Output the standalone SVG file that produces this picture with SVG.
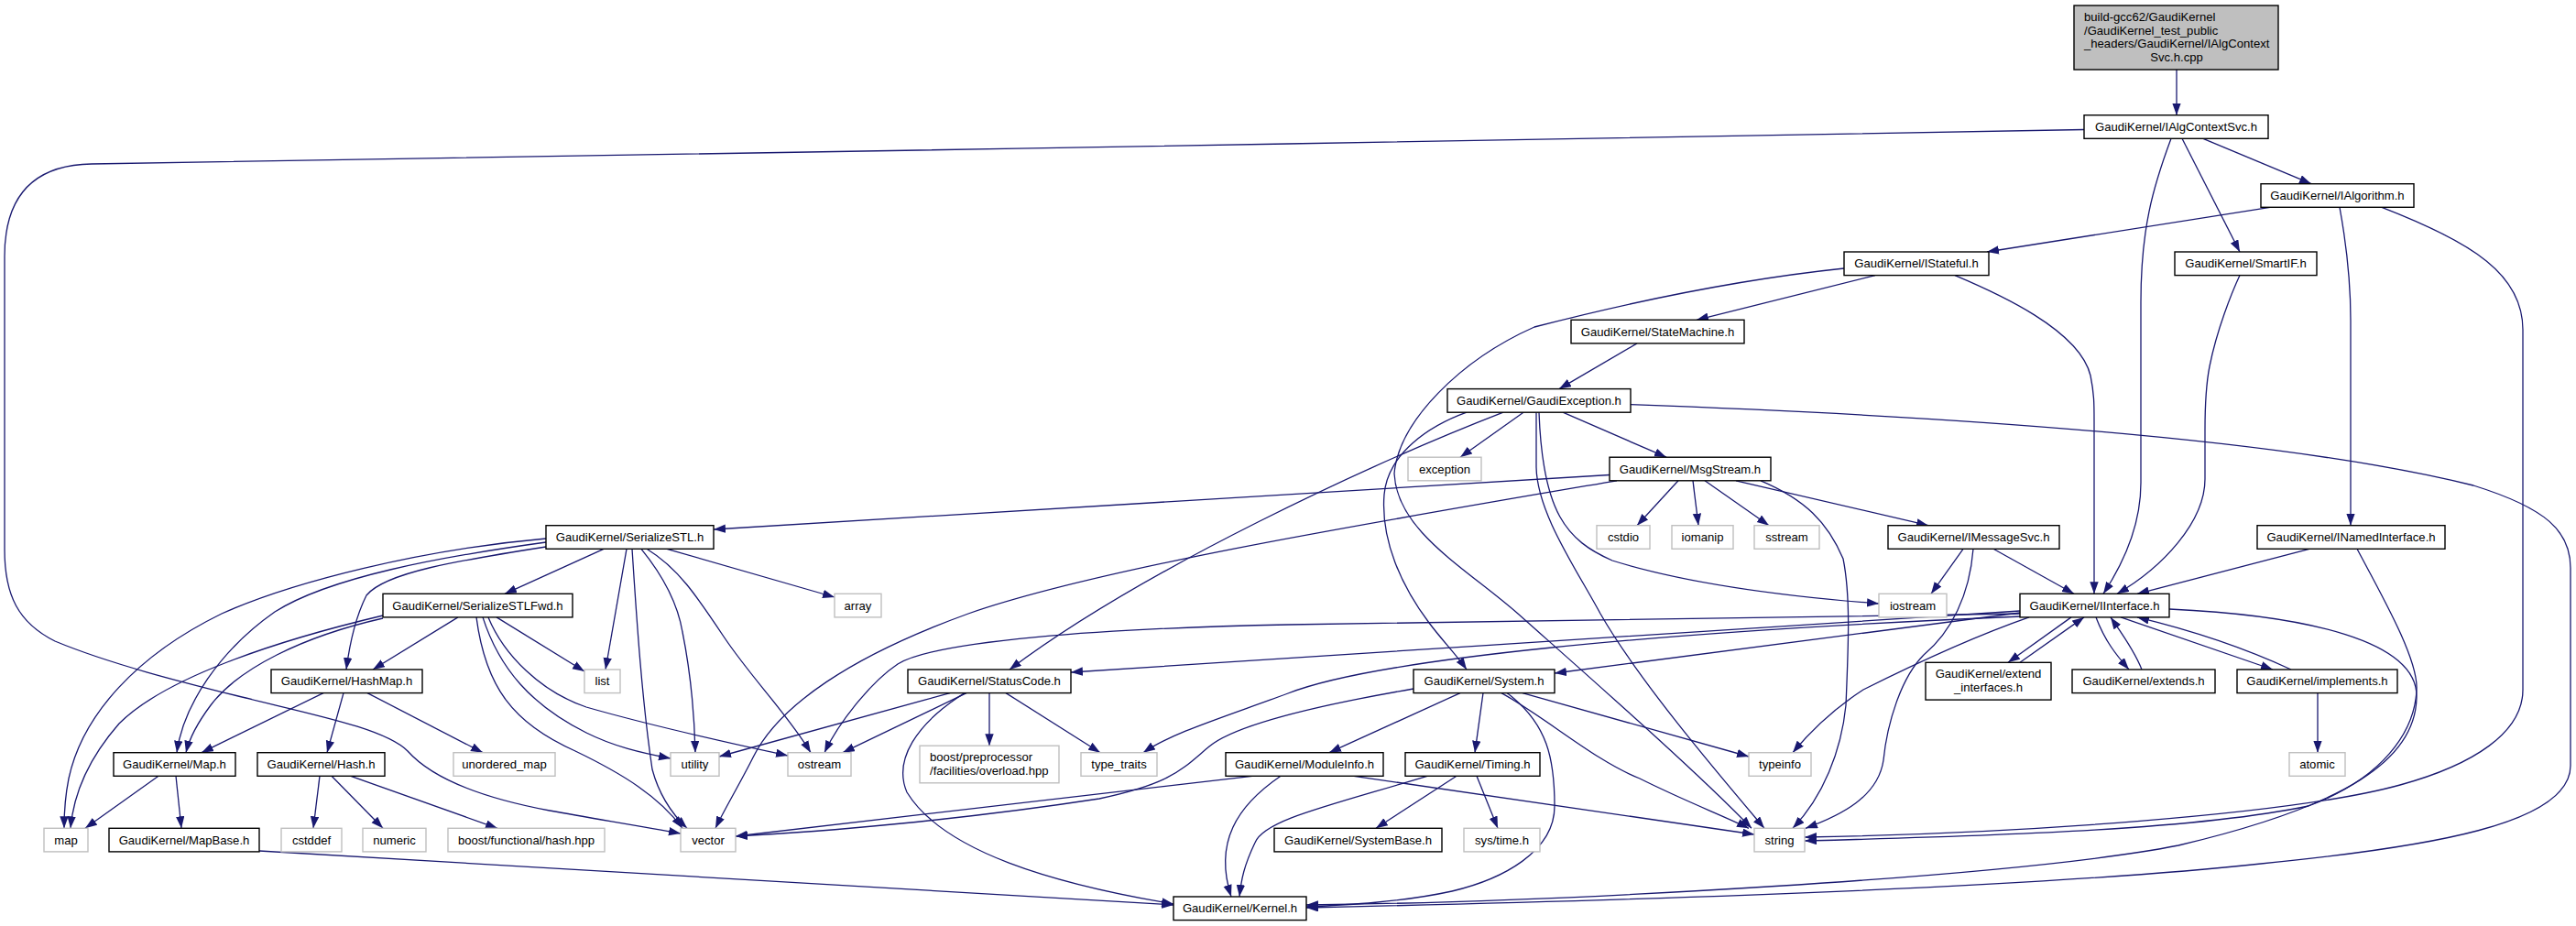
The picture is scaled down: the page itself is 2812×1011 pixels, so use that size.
<svg xmlns="http://www.w3.org/2000/svg" width="2812" height="1011" viewBox="0 0 2812 1011">
<style>
text{font-family:"Liberation Sans",Arial,sans-serif;font-size:13.1px;fill:#000;text-anchor:middle}
.n rect{fill:#fff;stroke:#000;stroke-width:1.4}
.s rect{fill:#fff;stroke:#bfbfbf;stroke-width:1.4}
.r rect{fill:#bfbfbf;stroke:#000;stroke-width:1.4}
.l{text-anchor:start}
#edges path{fill:none;stroke:#191970;stroke-width:1.3;marker-end:url(#a)}
</style>
<defs>
<marker id="a" markerWidth="14" markerHeight="10" refX="13" refY="4.7" orient="auto" markerUnits="userSpaceOnUse"><path d="M0,0 L13,4.7 L0,9.4 z" fill="#191970"/></marker>
</defs>
<rect width="2812" height="1011" fill="#fff"/>
<g id="edges">
<path d="M2376,76 L2376,125.7"/>
<path d="M2405,151.3 L2523,200.7"/>
<path d="M2382,151.3 L2445,275"/>
<path d="M2370,151.3 C2350,205 2337,250 2337,330 L2337,527 C2337,575 2318,615 2296,648.3"/>
<path d="M2275,141.5 L1406,157 C900,166 300,176 100,179 C40,180 5,210 5,280 L5,600 C5,650 20,680 60,700 C120,725 200,745 260,760 C340,780 420,795 445,820 C470,848 520,870 600,885 C650,894 700,902 743,910"/>
<path d="M2478,226.3 L2169,275"/>
<path d="M2554,226.3 C2562,270 2566,310 2566,350 L2566,573.7"/>
<path d="M2600,226.3 C2700,265 2754,300 2754,360 L2754,753 C2754,800 2700,835 2620,857 C2500,890 2200,910 1970,914"/>
<path d="M2013,293 C1880,307 1760,335 1675,357 C1594,393 1527,460 1522,517 C1525,580 1600,620 1657,670 C1730,735 1850,840 1912,904.3"/>
<path d="M2047,300.6 L1852,349.3"/>
<path d="M2134,300.6 C2180,320 2270,360 2282,410 C2286,430 2286,440 2286,460 L2286,648.3"/>
<path d="M2445,300.6 C2436,320 2420,360 2412,400 C2408,420 2407,440 2407,470 L2407,523 C2407,570 2360,620 2311,648.3"/>
<path d="M1787,374.9 L1702,424.6"/>
<path d="M1663,450.2 L1594,499.2"/>
<path d="M1706,450.2 L1819,499.2"/>
<path d="M1641,450.2 C1500,505 1250,620 1102,731"/>
<path d="M1601,450.2 C1560,465 1515,495 1511,540 C1507,590 1530,640 1560,680 C1575,700 1590,715 1601,731"/>
<path d="M1677,450.2 L1677,510 C1678,560 1720,620 1747,670 C1790,745 1880,850 1926,904.3"/>
<path d="M1680,450.2 C1684,560 1710,590 1760,612 C1850,640 1960,652 2051,659"/>
<path d="M1780,441.7 C2150,455 2500,480 2700,530 C2780,555 2806,580 2806,620 L2806,836 C2806,900 2650,925 2468,943 C2200,972 1700,985 1426,991"/>
<path d="M1757,518.5 L779,578"/>
<path d="M1765,524.8 C1500,570 1200,620 1057,670 C930,716 850,770 822,827 C808,855 790,885 781,904.3"/>
<path d="M1832,524.8 L1787,573.7"/>
<path d="M1848,524.8 L1854,573.7"/>
<path d="M1861,524.8 L1931,573.7"/>
<path d="M1895,524.8 L2105,573.7"/>
<path d="M1922,524.8 C1970,545 1995,570 2012,610 C2020,650 2018,700 2015,770 C2010,820 1990,870 1957,904.3"/>
<path d="M2143,599.3 L2108,648.3"/>
<path d="M2154,599.3 C2150,650 2130,690 2100,715 C2075,740 2060,790 2056,830 C2050,870 2010,890 1971,904.3"/>
<path d="M2176,599.3 L2264,648.3"/>
<path d="M2521,599.3 L2333,648.3"/>
<path d="M2573,599.3 C2600,650 2640,720 2638,753 C2636,800 2600,850 2520,880 C2400,905 2200,912 1970,918"/>
<path d="M2261,673.9 L2192,723.3"/>
<path d="M2205,723.3 L2275,673.9"/>
<path d="M2288,673.9 C2298,700 2310,715 2324,731"/>
<path d="M2338,731 C2330,710 2315,690 2304,673.9"/>
<path d="M2315,673.9 L2481,731"/>
<path d="M2501,731 C2460,712 2400,690 2333,673.9"/>
<path d="M2530,756.6 L2530,821.7"/>
<path d="M2368,665 C2520,672 2638,700 2638,760 C2638,830 2560,880 2378,923 C2200,958 1700,985 1426,988"/>
<path d="M2205,667 C1900,690 1500,710 1169,734"/>
<path d="M2205,670 L1406,682 C1200,686 1020,700 980,725 C950,745 915,790 900,821.7"/>
<path d="M2205,669 L1697,735"/>
<path d="M2207,673 C1800,690 1500,720 1406,757 C1330,785 1280,800 1248,821.7"/>
<path d="M2215,673.9 C2140,700 2060,740 2034,753 C2000,775 1975,800 1957,821.7"/>
<path d="M1594,756.6 L1451,821.7"/>
<path d="M1619,756.6 L1610,821.7"/>
<path d="M1662,756.6 L1909,826"/>
<path d="M1639,756.6 C1690,785 1740,830 1790,850 C1840,875 1880,890 1909,904.3"/>
<path d="M1645,756.6 C1690,790 1697,830 1697,880 C1697,930 1640,960 1585,973 C1530,985 1470,988 1426,990"/>
<path d="M1543,752 C1450,768 1350,790 1320,815 C1290,840 1280,855 1200,872 C1050,895 900,908 803,913"/>
<path d="M1367,847.3 L803,913"/>
<path d="M1398,847.3 C1350,880 1325,920 1344,979"/>
<path d="M1478,847.3 L1915,911"/>
<path d="M1590,847.3 L1502,904.3"/>
<path d="M1612,847.3 L1635,904.3"/>
<path d="M1558,847.3 C1450,880 1380,895 1370,920 C1358,945 1355,960 1353,979"/>
<path d="M1037,756.6 L785,826"/>
<path d="M1055,756.6 L920,821.7"/>
<path d="M1080,756.6 L1080,814.2"/>
<path d="M1098,756.6 L1201,821.7"/>
<path d="M1053,756.6 C1000,790 975,830 990,865 C1030,930 1150,965 1281,987"/>
<path d="M659,599.3 L551,648.3"/>
<path d="M728,599.3 L911,652"/>
<path d="M684,599.3 L661,731"/>
<path d="M700,599.3 C725,630 740,660 745,690 C755,740 758,780 759,821.7"/>
<path d="M706,599.3 C740,620 760,650 790,695 C820,740 860,780 885,821.7"/>
<path d="M690,599.3 C694,660 700,760 712,840 C720,870 735,890 750,904.3"/>
<path d="M596,597 C500,612 420,625 400,650 C390,670 382,700 378,731"/>
<path d="M596,592 C480,608 360,630 300,668 C240,710 200,770 193,821.7"/>
<path d="M596,588 C460,600 320,635 242,670 C150,715 90,780 75,850 C70,875 70,890 70,904.3"/>
<path d="M500,673.9 L407,731"/>
<path d="M418,675 C330,695 260,730 230,770 C215,790 207,805 203,821.7"/>
<path d="M418,672 C300,700 180,740 130,790 C95,830 80,870 77,904.3"/>
<path d="M542,673.9 L638,733"/>
<path d="M527,673.9 C545,730 580,770 640,800 C670,815 700,822 732,828"/>
<path d="M533,673.9 C550,715 590,755 640,772 C720,795 800,812 860,825"/>
<path d="M520,673.9 C530,750 560,790 628,820 C680,845 720,870 745,904.3"/>
<path d="M353,756.6 L220,821.7"/>
<path d="M375,756.6 L357,821.7"/>
<path d="M401,756.6 L527,821.7"/>
<path d="M173,847.3 L93,904.3"/>
<path d="M192,847.3 L198,904.3"/>
<path d="M349,847.3 L342,904.3"/>
<path d="M362,847.3 L418,904.3"/>
<path d="M383,847.3 L543,904.3"/>
<path d="M283,929 L1281,988"/>
</g>
<g id="root" class="r"><rect x="2264" y="6" width="223" height="70"/>
<text class="l" x="2275" y="23">build-gcc62/GaudiKernel</text>
<text class="l" x="2275" y="37.6">/GaudiKernel_test_public</text>
<text class="l" x="2275" y="52.2">_headers/GaudiKernel/IAlgContext</text>
<text x="2376" y="66.8">Svc.h.cpp</text></g>
<g id="IAlgContextSvc" class="n"><rect x="2275" y="125.7" width="201" height="25.6"/><text x="2375.5" y="143.1">GaudiKernel/IAlgContextSvc.h</text></g>
<g id="IAlgorithm" class="n"><rect x="2468" y="200.7" width="167" height="25.6"/><text x="2551.5" y="218.1">GaudiKernel/IAlgorithm.h</text></g>
<g id="IStateful" class="n"><rect x="2013" y="275" width="158" height="25.6"/><text x="2092" y="292.4">GaudiKernel/IStateful.h</text></g>
<g id="SmartIF" class="n"><rect x="2374" y="275" width="155" height="25.6"/><text x="2451.5" y="292.4">GaudiKernel/SmartIF.h</text></g>
<g id="StateMachine" class="n"><rect x="1715" y="349.3" width="189" height="25.6"/><text x="1809.5" y="366.7">GaudiKernel/StateMachine.h</text></g>
<g id="GaudiException" class="n"><rect x="1580" y="424.6" width="200" height="25.6"/><text x="1680" y="442">GaudiKernel/GaudiException.h</text></g>
<g id="exception" class="s"><rect x="1537" y="499.2" width="80" height="25.6"/><text x="1577" y="516.6">exception</text></g>
<g id="MsgStream" class="n"><rect x="1757" y="499.2" width="176" height="25.6"/><text x="1845" y="516.6">GaudiKernel/MsgStream.h</text></g>
<g id="SerializeSTL" class="n"><rect x="596" y="573.7" width="183" height="25.6"/><text x="687.5" y="591.1">GaudiKernel/SerializeSTL.h</text></g>
<g id="cstdio" class="s"><rect x="1743" y="573.7" width="58" height="25.6"/><text x="1772" y="591.1">cstdio</text></g>
<g id="iomanip" class="s"><rect x="1825" y="573.7" width="67" height="25.6"/><text x="1858.5" y="591.1">iomanip</text></g>
<g id="sstream" class="s"><rect x="1915" y="573.7" width="71" height="25.6"/><text x="1950.5" y="591.1">sstream</text></g>
<g id="IMessageSvc" class="n"><rect x="2061" y="573.7" width="187" height="25.6"/><text x="2154.5" y="591.1">GaudiKernel/IMessageSvc.h</text></g>
<g id="INamedInterface" class="n"><rect x="2464" y="573.7" width="205" height="25.6"/><text x="2566.5" y="591.1">GaudiKernel/INamedInterface.h</text></g>
<g id="SerializeSTLFwd" class="n"><rect x="418" y="648.3" width="207" height="25.6"/><text x="521.5" y="665.7">GaudiKernel/SerializeSTLFwd.h</text></g>
<g id="array" class="s"><rect x="911" y="648.3" width="51" height="25.6"/><text x="936.5" y="665.7">array</text></g>
<g id="iostream" class="s"><rect x="2051" y="648.3" width="74" height="25.6"/><text x="2088" y="665.7">iostream</text></g>
<g id="IInterface" class="n"><rect x="2205" y="648.3" width="163" height="25.6"/><text x="2286.5" y="665.7">GaudiKernel/IInterface.h</text></g>
<g id="HashMap" class="n"><rect x="296" y="731" width="165" height="25.6"/><text x="378.5" y="748.4">GaudiKernel/HashMap.h</text></g>
<g id="list" class="s"><rect x="638" y="731" width="39" height="25.6"/><text x="657.5" y="748.4">list</text></g>
<g id="StatusCode" class="n"><rect x="991" y="731" width="178" height="25.6"/><text x="1080" y="748.4">GaudiKernel/StatusCode.h</text></g>
<g id="System" class="n"><rect x="1543" y="731" width="154" height="25.6"/><text x="1620" y="748.4">GaudiKernel/System.h</text></g>
<g id="extend_interfaces" class="n"><rect x="2102" y="723.3" width="137" height="40.8"/><text x="2170.5" y="740.3">GaudiKernel/extend</text><text x="2170.5" y="755.3">_interfaces.h</text></g>
<g id="extends" class="n"><rect x="2262" y="731" width="156" height="25.6"/><text x="2340" y="748.4">GaudiKernel/extends.h</text></g>
<g id="implements" class="n"><rect x="2442" y="731" width="175" height="25.6"/><text x="2529.5" y="748.4">GaudiKernel/implements.h</text></g>
<g id="Map" class="n"><rect x="124" y="821.7" width="133" height="25.6"/><text x="190.5" y="839.1">GaudiKernel/Map.h</text></g>
<g id="Hash" class="n"><rect x="281" y="821.7" width="139" height="25.6"/><text x="350.5" y="839.1">GaudiKernel/Hash.h</text></g>
<g id="unordered_map" class="s"><rect x="495" y="821.7" width="111" height="25.6"/><text x="550.5" y="839.1">unordered_map</text></g>
<g id="utility" class="s"><rect x="732" y="821.7" width="53" height="25.6"/><text x="758.5" y="839.1">utility</text></g>
<g id="ostream" class="s"><rect x="860" y="821.7" width="69" height="25.6"/><text x="894.5" y="839.1">ostream</text></g>
<g id="overload" class="s"><rect x="1004" y="814.2" width="152" height="40.6"/><text class="l" x="1015" y="831">boost/preprocessor</text><text class="l" x="1015" y="845.6">/facilities/overload.hpp</text></g>
<g id="type_traits" class="s"><rect x="1180" y="821.7" width="83" height="25.6"/><text x="1221.5" y="839.1">type_traits</text></g>
<g id="ModuleInfo" class="n"><rect x="1338" y="821.7" width="172" height="25.6"/><text x="1424" y="839.1">GaudiKernel/ModuleInfo.h</text></g>
<g id="Timing" class="n"><rect x="1534" y="821.7" width="147" height="25.6"/><text x="1607.5" y="839.1">GaudiKernel/Timing.h</text></g>
<g id="typeinfo" class="s"><rect x="1909" y="821.7" width="68" height="25.6"/><text x="1943" y="839.1">typeinfo</text></g>
<g id="atomic" class="s"><rect x="2499" y="821.7" width="61" height="25.6"/><text x="2529.5" y="839.1">atomic</text></g>
<g id="map" class="s"><rect x="48" y="904.3" width="48" height="25.6"/><text x="72" y="921.7">map</text></g>
<g id="MapBase" class="n"><rect x="119" y="904.3" width="164" height="25.6"/><text x="201" y="921.7">GaudiKernel/MapBase.h</text></g>
<g id="cstddef" class="s"><rect x="307" y="904.3" width="66" height="25.6"/><text x="340" y="921.7">cstddef</text></g>
<g id="numeric" class="s"><rect x="396" y="904.3" width="69" height="25.6"/><text x="430.5" y="921.7">numeric</text></g>
<g id="hash_hpp" class="s"><rect x="489" y="904.3" width="171" height="25.6"/><text x="574.5" y="921.7">boost/functional/hash.hpp</text></g>
<g id="vector" class="s"><rect x="743" y="904.3" width="60" height="25.6"/><text x="773" y="921.7">vector</text></g>
<g id="SystemBase" class="n"><rect x="1391" y="904.3" width="183" height="25.6"/><text x="1482.5" y="921.7">GaudiKernel/SystemBase.h</text></g>
<g id="systime" class="s"><rect x="1598" y="904.3" width="83" height="25.6"/><text x="1639.5" y="921.7">sys/time.h</text></g>
<g id="string" class="s"><rect x="1915" y="904.3" width="55" height="25.6"/><text x="1942.5" y="921.7">string</text></g>
<g id="Kernel" class="n"><rect x="1281" y="979" width="145" height="25.6"/><text x="1353.5" y="996.4">GaudiKernel/Kernel.h</text></g>
</svg>
